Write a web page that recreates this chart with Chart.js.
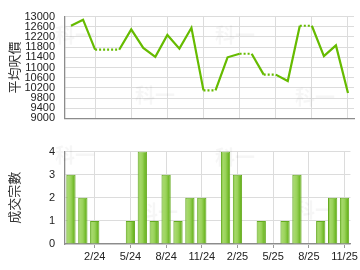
<!DOCTYPE html>
<html><head><meta charset="utf-8">
<script src="https://cdn.jsdelivr.net/npm/chart.js@4/dist/chart.umd.min.js"></script>
<style>
html,body{margin:0;padding:0;background:#fff;}
#wrap{position:relative;width:360px;height:270px;}
canvas{position:absolute;left:0;}
#c1{top:0;} #c2{top:135px;}
</style></head><body>
<div id="wrap"><canvas id="c1" width="360" height="135"></canvas><canvas id="c2" width="360" height="135"></canvas></div>
<script>
const months = ['12/23','1/24','2/24','3/24','4/24','5/24','6/24','7/24','8/24','9/24','10/24','11/24','12/24','1/25','2/25','3/25','4/25','5/25','6/25','7/25','8/25','9/25','10/25','11/25'];
const prices = [12640,12880,11700,11700,11700,12500,11770,11420,12280,11740,12560,10100,10100,11400,11540,11540,10720,10720,10470,12640,12640,11450,11870,10000];
const counts = [3,2,1,0,0,1,4,1,3,1,2,2,0,4,3,0,1,0,1,3,0,1,2,2];
const priceTicks = [9000,9400,9800,10200,10600,11000,11400,11800,12200,12600,13000];
const countTicks = [0,1,2,3,4];
const priceTitle = '平均呎價';
const countTitle = '成交宗數';

const isQ = i => [2,5,8,11].includes(parseInt(months[i].split('/')[0],10));
const tickFont = {family:'"Liberation Sans", Arial, sans-serif', size:11};
const titleFont = {family:'"Noto Sans CJK TC", sans-serif', size:13};
const GRID = '#dcdcdc', AXIS = '#8c8c8c';

function xScale(showLabels){
  return {
    type:'category', offset:true,
    grid:{offset:false, color:c=>isQ(c.index)?GRID:'rgba(0,0,0,0)', tickColor:c=>isQ(c.index)?'#999':'rgba(0,0,0,0)', tickLength:4, drawTicks:showLabels},
    border:{color:AXIS, width:1.3},
    ticks:{display:showLabels, autoSkip:false, maxRotation:0, minRotation:0, padding:2, color:'#222', font:tickFont,
      callback:(v,i)=>isQ(i)?months[i]:''},
    afterFit:s=>{s.height = showLabels?26:0;}
  };
}

function yScale(list, title){
  return {
    min:list[0], max:list[list.length-1],
    afterBuildTicks:s=>{s.ticks = list.map(v=>({value:v}));},
    ticks:{autoSkip:false, padding:10, color:'#222', font:tickFont, callback:v=>String(v)},
    grid:{color:GRID, drawTicks:false},
    border:{color:AXIS, width:1.3},
    title:{display:true, text:title, color:'#333', font:titleFont, padding:{top:6,bottom:0}},
    afterFit:s=>{s.width=65;}
  };
}

const watermark = {
  id:'wm',
  beforeDatasetsDraw(chart, args, opts){
    const ctx = chart.ctx; ctx.save();
    ctx.fillStyle='rgba(0,0,0,0.035)';
    ctx.font='bold 20px "Noto Sans CJK SC", sans-serif';
    ctx.textBaseline='middle';
    for(const p of opts.pos){ ctx.fillText('科一', p[0], p[1]); }
    ctx.restore();
  }
};

new Chart(document.getElementById('c1'), {
  type:'line',
  data:{labels:months, datasets:[{data:prices, borderColor:'#66bb00', borderWidth:2.2, pointRadius:0, tension:0, fill:false,
    segment:{borderDash:c=>counts[c.p1DataIndex]===0?[2,2]:undefined}}]},
  options:{
    responsive:false, animation:false, events:[],
    layout:{padding:{left:0,right:6,top:7,bottom:5}},
    plugins:{legend:{display:false}, tooltip:{enabled:false}, wm:{pos:[[55,35],[135,95],[215,35],[295,97]]}},
    scales:{ x:xScale(false), y:yScale(priceTicks, priceTitle) }
  },
  plugins:[watermark]
});

function barGrad(c){
  const ch = c.chart;
  if(!ch.chartArea || !ch.scales.x) return '#8cc83f';
  const x = ch.scales.x.getPixelForValue(c.dataIndex);
  const w = 10;
  const g = ch.ctx.createLinearGradient(x-w/2,0,x+w/2,0);
  g.addColorStop(0,'#6db62a');
  g.addColorStop(0.25,'#a6d96a');
  g.addColorStop(0.5,'#99d25a');
  g.addColorStop(0.8,'#6fb826');
  g.addColorStop(1,'#5aa313');
  return g;
}

new Chart(document.getElementById('c2'), {
  type:'bar',
  data:{labels:months, datasets:[{data:counts, backgroundColor:barGrad, borderColor:'#66ab20', borderWidth:1, barPercentage:0.78, categoryPercentage:1}]},
  options:{
    responsive:false, animation:false, events:[],
    layout:{padding:{left:0,right:6,top:12,bottom:0}},
    plugins:{legend:{display:false}, tooltip:{enabled:false}, wm:{pos:[[55,20],[138,77],[215,22],[295,75]]}},
    scales:{ x:xScale(true), y:yScale(countTicks, countTitle) }
  },
  plugins:[watermark]
});
</script>
</body></html>
